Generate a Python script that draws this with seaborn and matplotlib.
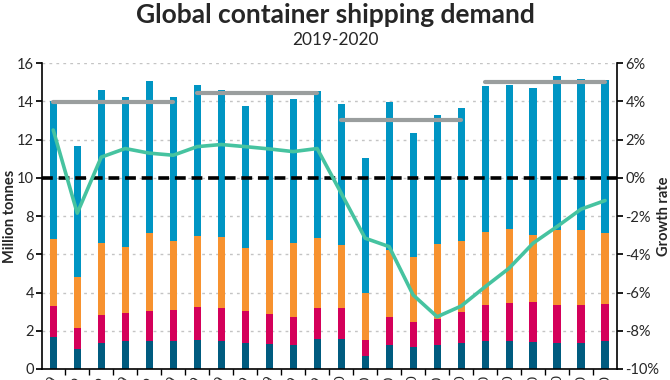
import numpy as np
import pandas as pd
import matplotlib
matplotlib.use("Agg")
import matplotlib.pyplot as plt
import seaborn as sns
from matplotlib.ticker import FuncFormatter, MultipleLocator


months = ["Jan", "Feb", "Mar", "Apr", "May", "Jun",
          "Jul", "Aug", "Sep", "Oct", "Nov", "Dec"]
month_labels = [f"{m}-{y}" for y in ["19", "20"] for m in months]

# cumulative tops of each stacked segment (million tonnes)
seg1_top = [1.65, 1.03, 1.37, 1.44, 1.48, 1.46, 1.51, 1.46, 1.37, 1.30, 1.23, 1.57,
            1.55, 0.69, 1.27, 1.16, 1.23, 1.34, 1.44, 1.46, 1.43, 1.37, 1.37, 1.46]
seg2_top = [3.29, 2.16, 2.82, 2.94, 3.03, 3.08, 3.24, 3.19, 3.01, 2.86, 2.70, 3.19,
            3.17, 1.51, 2.70, 2.47, 2.60, 2.96, 3.36, 3.47, 3.52, 3.33, 3.33, 3.40]
seg3_top = [6.80, 4.83, 6.61, 6.38, 7.13, 6.71, 6.97, 6.92, 6.35, 6.77, 6.58, 6.84,
            6.49, 3.96, 6.23, 5.84, 6.52, 6.70, 7.15, 7.31, 7.01, 7.27, 7.27, 7.13]
total = [14.00, 11.67, 14.60, 14.20, 15.04, 14.25, 14.86, 14.57, 13.76, 14.53, 14.10, 14.53,
         13.85, 11.03, 13.96, 12.34, 13.28, 13.66, 14.81, 14.86, 14.69, 15.35, 15.18, 15.13]

# year-on-year growth rate (%)
growth = [2.5, -1.85, 1.08, 1.53, 1.29, 1.18, 1.63, 1.74, 1.63, 1.51, 1.37, 1.53,
          -0.8, -3.16, -3.6, -6.13, -7.27, -6.71, -5.7, -4.73, -3.42, -2.55, -1.64, -1.19]

# half-year average demand
half_names = ["H1-19", "H2-19", "H1-20", "H2-20"]
half_avg = [13.98, 14.42, 13.03, 15.00]

c_dark = "#005b7f"
c_mag = "#d4005a"
c_orange = "#f7922f"
c_blue = "#0095c3"
c_line = "#46c3a0"
c_gray = "#9a9e9e"

sns.set_theme(style="white")
plt.rcParams["font.family"] = ["Lato", "DejaVu Sans"]

idx = np.arange(len(month_labels))
df = pd.DataFrame({"idx": idx, "month": month_labels, "total": total,
                   "s3": seg3_top, "s2": seg2_top, "s1": seg1_top, "growth": growth})
df["half"] = [half_names[i // 6] for i in idx]
df["half_avg"] = df["half"].map(dict(zip(half_names, half_avg)))

fig = plt.figure(figsize=(6.7, 3.8), dpi=100)
ax = fig.add_axes([0.063, 0.029, 0.858, 0.805])

for col, color in [("total", c_blue), ("s3", c_orange), ("s2", c_mag), ("s1", c_dark)]:
    sns.barplot(data=df, x="idx", y=col, color=color, width=0.3, ax=ax,
                saturation=1, linewidth=0, zorder=2)

sns.lineplot(data=df, x="idx", y="half_avg", hue="half", palette=[c_gray] * 4,
             legend=False, linewidth=3, ax=ax, zorder=4,
             solid_capstyle="round")

ax.set_ylim(0, 16)
ax.set_xlim(-0.46, 23.5)
ax.yaxis.set_major_locator(MultipleLocator(2))
ax.grid(axis="y", color="#c4c4c4", linestyle=(0, (2, 3)), linewidth=1)
ax.set_axisbelow(True)
ax.set_xticks(idx)
ax.set_xticklabels(month_labels, rotation=90, fontsize=10, va="top")
ax.set_xticks(idx[:-1] + 0.5, minor=True)
ax.tick_params(axis="x", which="major", length=0, pad=4)
ax.tick_params(axis="x", which="minor", bottom=True, length=4, color="black", width=1)
ax.tick_params(axis="y", left=True, length=4, color="black", labelsize=10.5, pad=2)
ax.set_xlabel("")
ax.set_ylabel("Million tonnes", fontsize=10.5, fontweight="bold")
ax.yaxis.set_label_coords(-0.043, 0.5)
for side in ["top", "right"]:
    ax.spines[side].set_visible(False)
for side in ["left", "bottom"]:
    ax.spines[side].set_color("black")
    ax.spines[side].set_linewidth(1.2)

ax2 = ax.twinx()
ax2.set_ylim(-10, 6)
ax2.axhline(0, color="black", linestyle=(0, (3, 1.6)), linewidth=2.6, zorder=5)
sns.lineplot(x=df["idx"], y=df["growth"], color=c_line, linewidth=2.6, ax=ax2, zorder=6)
ax2.yaxis.set_major_locator(MultipleLocator(2))
ax2.yaxis.set_major_formatter(FuncFormatter(lambda v, p: f"{v:.0f}%"))
ax2.tick_params(axis="y", right=True, length=4, color="black", labelsize=10.5, pad=2)
ax2.set_ylabel("Growth rate", fontsize=10.5, fontweight="bold")
ax2.yaxis.set_label_coords(1.07, 0.5)
ax2.grid(False)
for side in ["top", "left", "bottom"]:
    ax2.spines[side].set_visible(False)
ax2.spines["right"].set_color("black")
ax2.spines["right"].set_linewidth(1.2)
ax2.set_xlim(-0.46, 23.5)

fig.text(0.5, 0.96, "Global container shipping demand", ha="center", va="center",
         fontsize=19, fontweight="bold")
fig.text(0.5, 0.895, "2019-2020", ha="center", va="center", fontsize=12.4)

fig.savefig("out.png", dpi=100)
